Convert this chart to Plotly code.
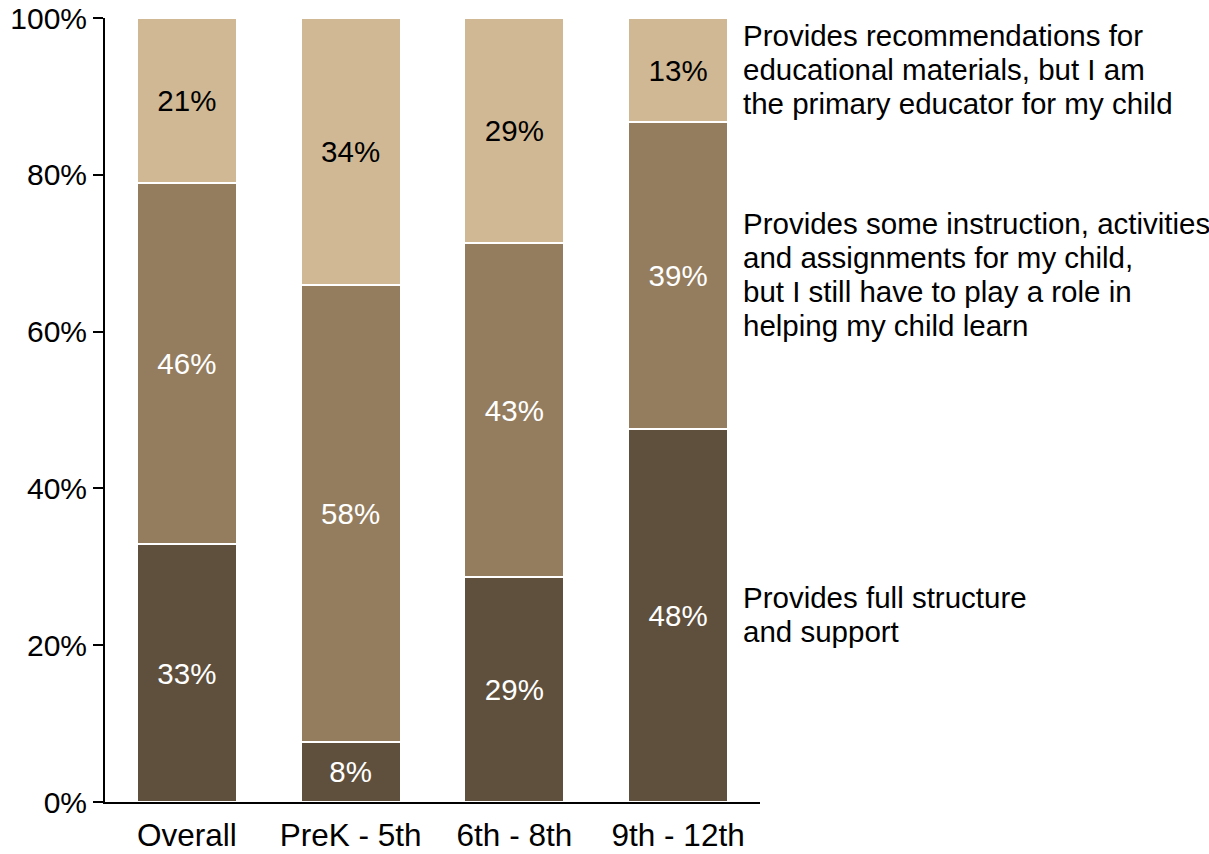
import plotly.graph_objects as go

# Survey shares by grade band (percent of respondents)
categories = ["Overall", "PreK - 5th", "6th - 8th", "9th - 12th"]
full_structure = [32.9, 7.7, 28.7, 47.6]
some_instruction = [46.0, 58.2, 42.6, 39.1]
recommendations = [21.1, 34.1, 28.7, 13.3]

y_ticks = [0, 20, 40, 60, 80, 100]
y_tick_labels = ["0%", "20%", "40%", "60%", "80%", "100%"]

series_names = [
    "Provides full structure and support",
    "Provides some instruction, activities and assignments for my child, but I still have to play a role in helping my child learn",
    "Provides recommendations for educational materials, but I am the primary educator for my child",
]
label_lines = [
    ["Provides full structure", "and support"],
    ["Provides some instruction, activities", "and assignments for my child,",
     "but I still have to play a role in", "helping my child learn"],
    ["Provides recommendations for", "educational materials, but I am",
     "the primary educator for my child"],
]
series_values = [full_structure, some_instruction, recommendations]
colors = ["#5f503d", "#947d5e", "#d0b894"]
text_colors = ["white", "white", "black"]

FONT = "Liberation Sans, Arial, Helvetica, sans-serif"

fig = go.Figure()
for name, vals, col, tcol in zip(series_names, series_values, colors, text_colors):
    fig.add_trace(go.Bar(
        x=categories,
        y=vals,
        name=name,
        marker=dict(color=col, line=dict(color="white", width=2)),
        text=[f"{v:.0f}%" for v in vals],
        textposition="inside",
        insidetextanchor="middle",
        textangle=0,
        textfont=dict(color=tcol, size=29.5, family=FONT),
        hoverinfo="skip",
    ))

# Series labels placed beside the last column, centred on each of its segments
line_gap = 34
base = 0.0
for vals, lines in zip(series_values, label_lines):
    seg = vals[-1]
    mid = base + seg / 2
    base += seg
    n = len(lines)
    for i, line in enumerate(lines):
        fig.add_annotation(
            x=1.0, xref="paper", xanchor="left", xshift=-19,
            y=mid, yref="y", yanchor="middle",
            yshift=((n - 1) / 2 - i) * line_gap + 1,
            text=line, showarrow=False, align="left",
            font=dict(size=29.5, color="black", family=FONT),
        )

fig.update_layout(
    barmode="stack",
    bargap=0.39,
    width=1209, height=854,
    margin=dict(l=105, r=449, t=18, b=52, autoexpand=False),
    paper_bgcolor="white",
    plot_bgcolor="white",
    showlegend=False,
    font=dict(family=FONT, color="black"),
)
fig.update_xaxes(
    range=[-0.5, 3.5],
    showline=True, linecolor="black", linewidth=2,
    ticks="", tickfont=dict(size=31.5, color="black"),
    ticklabelstandoff=4,
    showgrid=False, zeroline=False, automargin=False,
)
fig.update_yaxes(
    range=[0, 100],
    tickmode="array",
    tickvals=y_ticks,
    ticktext=y_tick_labels,
    showline=True, linecolor="black", linewidth=2,
    ticks="outside", ticklen=10, tickwidth=2, tickcolor="black",
    tickfont=dict(size=30, color="black"),
    showgrid=False, zeroline=False, automargin=False,
)

fig.write_html("out.html")
